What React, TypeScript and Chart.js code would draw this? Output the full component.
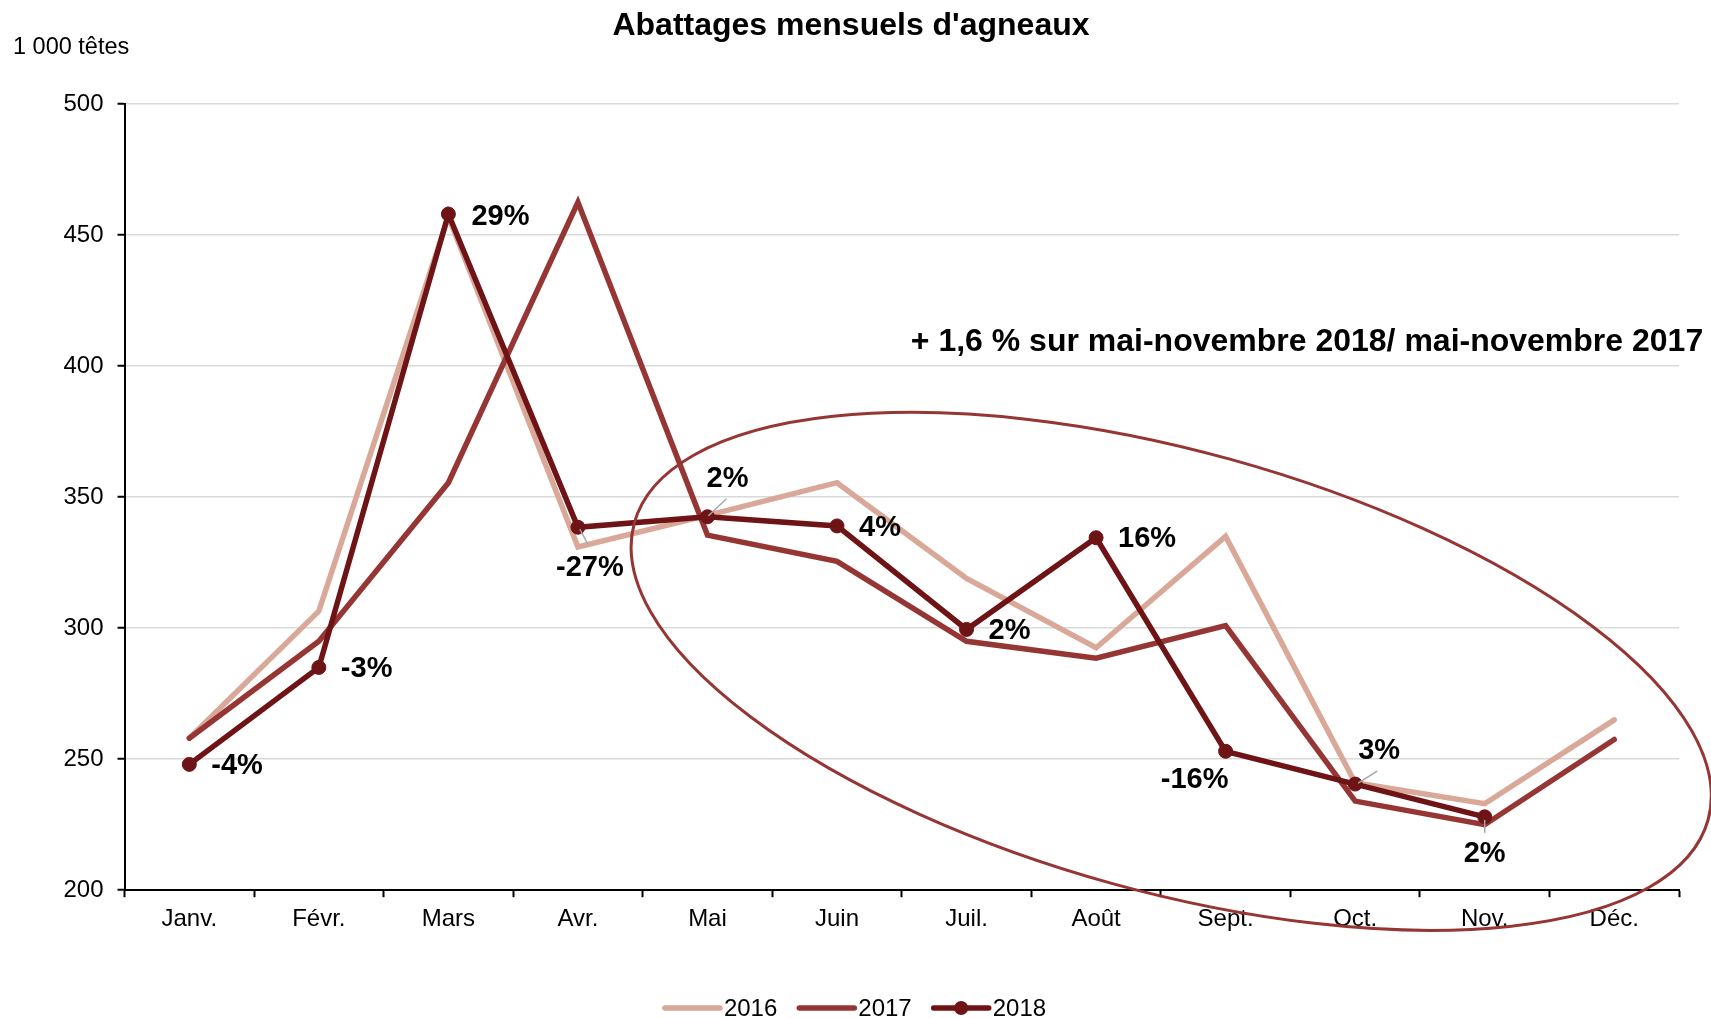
import React, { useEffect, useRef } from 'react';
import { Chart, registerables } from 'chart.js';

Chart.register(...registerables);

// ---------- data ----------
const months = ['Janv.', 'Févr.', 'Mars', 'Avr.', 'Mai', 'Juin', 'Juil.', 'Août', 'Sept.', 'Oct.', 'Nov.', 'Déc.'];
const series2016 = [258, 306.5, 457, 331, 343, 355.5, 319, 292.5, 335, 241, 233, 265];
const series2017 = [258, 295, 355.5, 462.5, 335.5, 325.5, 295, 288.5, 301, 234, 225, 257.5];
const series2018: (number | null)[] = [248, 285, 458, 338.5, 342.5, 339, 299.5, 334.5, 253, 240.5, 228, null];
const labels2018 = ['-4%', '-3%', '29%', '-27%', '2%', '4%', '2%', '16%', '-16%', '3%', '2%', ''];
const yMin = 200;
const yMax = 500;
const yStep = 50;
const seriesNames = ['2016', '2017', '2018'];
const titleText = "Abattages mensuels d'agneaux";
const unitText = '1 000 têtes';
const noteText = '+ 1,6 % sur mai-novembre 2018/ mai-novembre 2017';

// ---------- styling / layout ----------
const FONT = "'Liberation Sans', Arial, sans-serif";
const C2016 = '#D9A898';
const C2017 = '#963634';
const C2018 = '#6E1416';
const seriesColors = [C2016, C2017, C2018];

// label placement (pixel offsets from the 2018 point)
type Place = { dx: number; dy: number; align: CanvasTextAlign; leader?: number[] } | null;
const labelPlacement: Place[] = [
  { dx: 22, dy: 2, align: 'left' },
  { dx: 22, dy: 2, align: 'left' },
  { dx: 23, dy: 3, align: 'left' },
  { dx: 12, dy: 41, align: 'center', leader: [2, 2, 10, 17] },
  { dx: 20, dy: -38, align: 'center', leader: [1, -1, 19, -18] },
  { dx: 22, dy: 2, align: 'left' },
  { dx: 22, dy: 2, align: 'left' },
  { dx: 22, dy: 1, align: 'left' },
  { dx: -31, dy: 29, align: 'center' },
  { dx: 24, dy: -33, align: 'center', leader: [3, -1, 22, -13] },
  { dx: 0, dy: 37, align: 'center', leader: [0, 3, 0, 16] },
  null,
];

// highlight ellipse, in scale units (category index, value) and category widths
const ellipseCenter = { x: 7.58, y: 283.5 };
const ellipseAxes = { a: 4.3, b: 1.7 };
const ellipseRotationDeg = 15.45;

const overlayPlugin = {
  id: 'overlay',
  afterDraw(chart: any) {
    const ctx: CanvasRenderingContext2D = chart.ctx;
    const xs = chart.scales.x;
    const ys = chart.scales.y;
    ctx.save();

    // title
    ctx.fillStyle = '#000';
    ctx.font = `bold 32px ${FONT}`;
    ctx.textAlign = 'center';
    ctx.textBaseline = 'alphabetic';
    ctx.fillText(titleText, 851, 35);

    // unit
    ctx.font = `23.5px ${FONT}`;
    ctx.textAlign = 'left';
    ctx.fillText(unitText, 13, 54);

    // note
    ctx.font = `bold 32px ${FONT}`;
    ctx.textAlign = 'center';
    ctx.textBaseline = 'middle';
    ctx.fillText(noteText, 1307, 342);

    // ellipse
    const catW = xs.getPixelForValue(1) - xs.getPixelForValue(0);
    const cx = xs.getPixelForValue(ellipseCenter.x);
    const cy = ys.getPixelForValue(ellipseCenter.y);
    ctx.beginPath();
    ctx.ellipse(cx, cy, ellipseAxes.a * catW, ellipseAxes.b * catW, (ellipseRotationDeg * Math.PI) / 180, 0, Math.PI * 2);
    ctx.strokeStyle = C2017;
    ctx.lineWidth = 3;
    ctx.stroke();

    // data labels for 2018
    const meta = chart.getDatasetMeta(2);
    ctx.font = `bold 29px ${FONT}`;
    ctx.textBaseline = 'middle';
    labels2018.forEach((txt, i) => {
      const p = labelPlacement[i];
      const el = meta.data[i];
      if (!p || !txt || !el || series2018[i] == null) return;
      const px = el.x;
      const py = el.y;
      if (p.leader) {
        ctx.beginPath();
        ctx.moveTo(px + p.leader[0], py + p.leader[1]);
        ctx.lineTo(px + p.leader[2], py + p.leader[3]);
        ctx.strokeStyle = '#A6A6A6';
        ctx.lineWidth = 1.5;
        ctx.stroke();
      }
      ctx.fillStyle = '#000';
      ctx.textAlign = p.align;
      ctx.fillText(txt, px + p.dx, py + p.dy);
    });

    // legend
    ctx.font = `24px ${FONT}`;
    const lineLen = 55;
    const gapText = 4;
    const gapItem = 22;
    const widths = seriesNames.map((n) => ctx.measureText(n).width);
    const total = widths.reduce((s, w) => s + lineLen + gapText + w, 0) + gapItem * (seriesNames.length - 1);
    let lx = chart.width / 2 - total / 2;
    const ly = 1008;
    seriesNames.forEach((name, i) => {
      ctx.beginPath();
      ctx.moveTo(lx, ly);
      ctx.lineTo(lx + lineLen, ly);
      ctx.strokeStyle = seriesColors[i];
      ctx.lineWidth = 5.5;
      ctx.lineCap = 'round';
      ctx.stroke();
      if (i === 2) {
        ctx.beginPath();
        ctx.arc(lx + lineLen / 2, ly, 7, 0, Math.PI * 2);
        ctx.fillStyle = seriesColors[i];
        ctx.fill();
      }
      ctx.fillStyle = '#000';
      ctx.textAlign = 'left';
      ctx.textBaseline = 'middle';
      ctx.fillText(name, lx + lineLen + gapText, ly + 1);
      lx += lineLen + gapText + widths[i] + gapItem;
    });

    ctx.restore();
  },
};

export default function App() {
  const canvasRef = useRef<HTMLCanvasElement | null>(null);

  useEffect(() => {
    const canvas = canvasRef.current;
    if (!canvas) return;
    const chart = new Chart(canvas, {
      type: 'line',
      data: {
        labels: months,
        datasets: [
          {
            label: seriesNames[0],
            data: series2016,
            borderColor: C2016,
            backgroundColor: C2016,
            borderWidth: 5.5,
            pointRadius: 0,
            borderCapStyle: 'round',
            tension: 0,
            order: 3,
          },
          {
            label: seriesNames[1],
            data: series2017,
            borderColor: C2017,
            backgroundColor: C2017,
            borderWidth: 5.5,
            pointRadius: 0,
            borderCapStyle: 'round',
            tension: 0,
            order: 2,
          },
          {
            label: seriesNames[2],
            data: series2018,
            borderColor: C2018,
            backgroundColor: C2018,
            borderWidth: 5.5,
            pointRadius: 7,
            pointBackgroundColor: C2018,
            pointBorderColor: C2018,
            pointBorderWidth: 1,
            borderCapStyle: 'round',
            tension: 0,
            spanGaps: false,
            order: 1,
          },
        ],
      },
      options: {
        responsive: false,
        animation: false,
        devicePixelRatio: 1,
        events: [],
        layout: { padding: { left: 49.5, right: 32, top: 104, bottom: 76 } },
        plugins: {
          legend: { display: false },
          title: { display: false },
          tooltip: { enabled: false },
        },
        scales: {
          x: {
            type: 'category',
            offset: true,
            grid: {
              display: true,
              drawOnChartArea: false,
              drawTicks: true,
              tickLength: 7,
              tickColor: '#000',
              tickWidth: 2,
              offset: true,
            },
            border: { display: true, color: '#000', width: 2 },
            ticks: {
              font: { family: FONT, size: 24 },
              color: '#000',
              padding: 8,
              maxRotation: 0,
              autoSkip: false,
            },
          },
          y: {
            min: yMin,
            max: yMax,
            ticks: {
              stepSize: yStep,
              font: { family: FONT, size: 24 },
              color: '#000',
              padding: 14,
            },
            grid: {
              color: '#D9D9D9',
              lineWidth: 1.5,
              drawTicks: true,
              tickLength: 7,
              tickColor: '#000',
              tickWidth: 2,
            },
            border: { display: true, color: '#000', width: 2 },
          },
        },
      },
      plugins: [overlayPlugin],
    });
    return () => chart.destroy();
  }, []);

  return (
    <div style={{ position: 'fixed', left: 0, top: 0, width: 1711, height: 1018, background: '#fff' }}>
      <canvas ref={canvasRef} width={1711} height={1018} style={{ width: 1711, height: 1018, display: 'block' }} />
    </div>
  );
}
